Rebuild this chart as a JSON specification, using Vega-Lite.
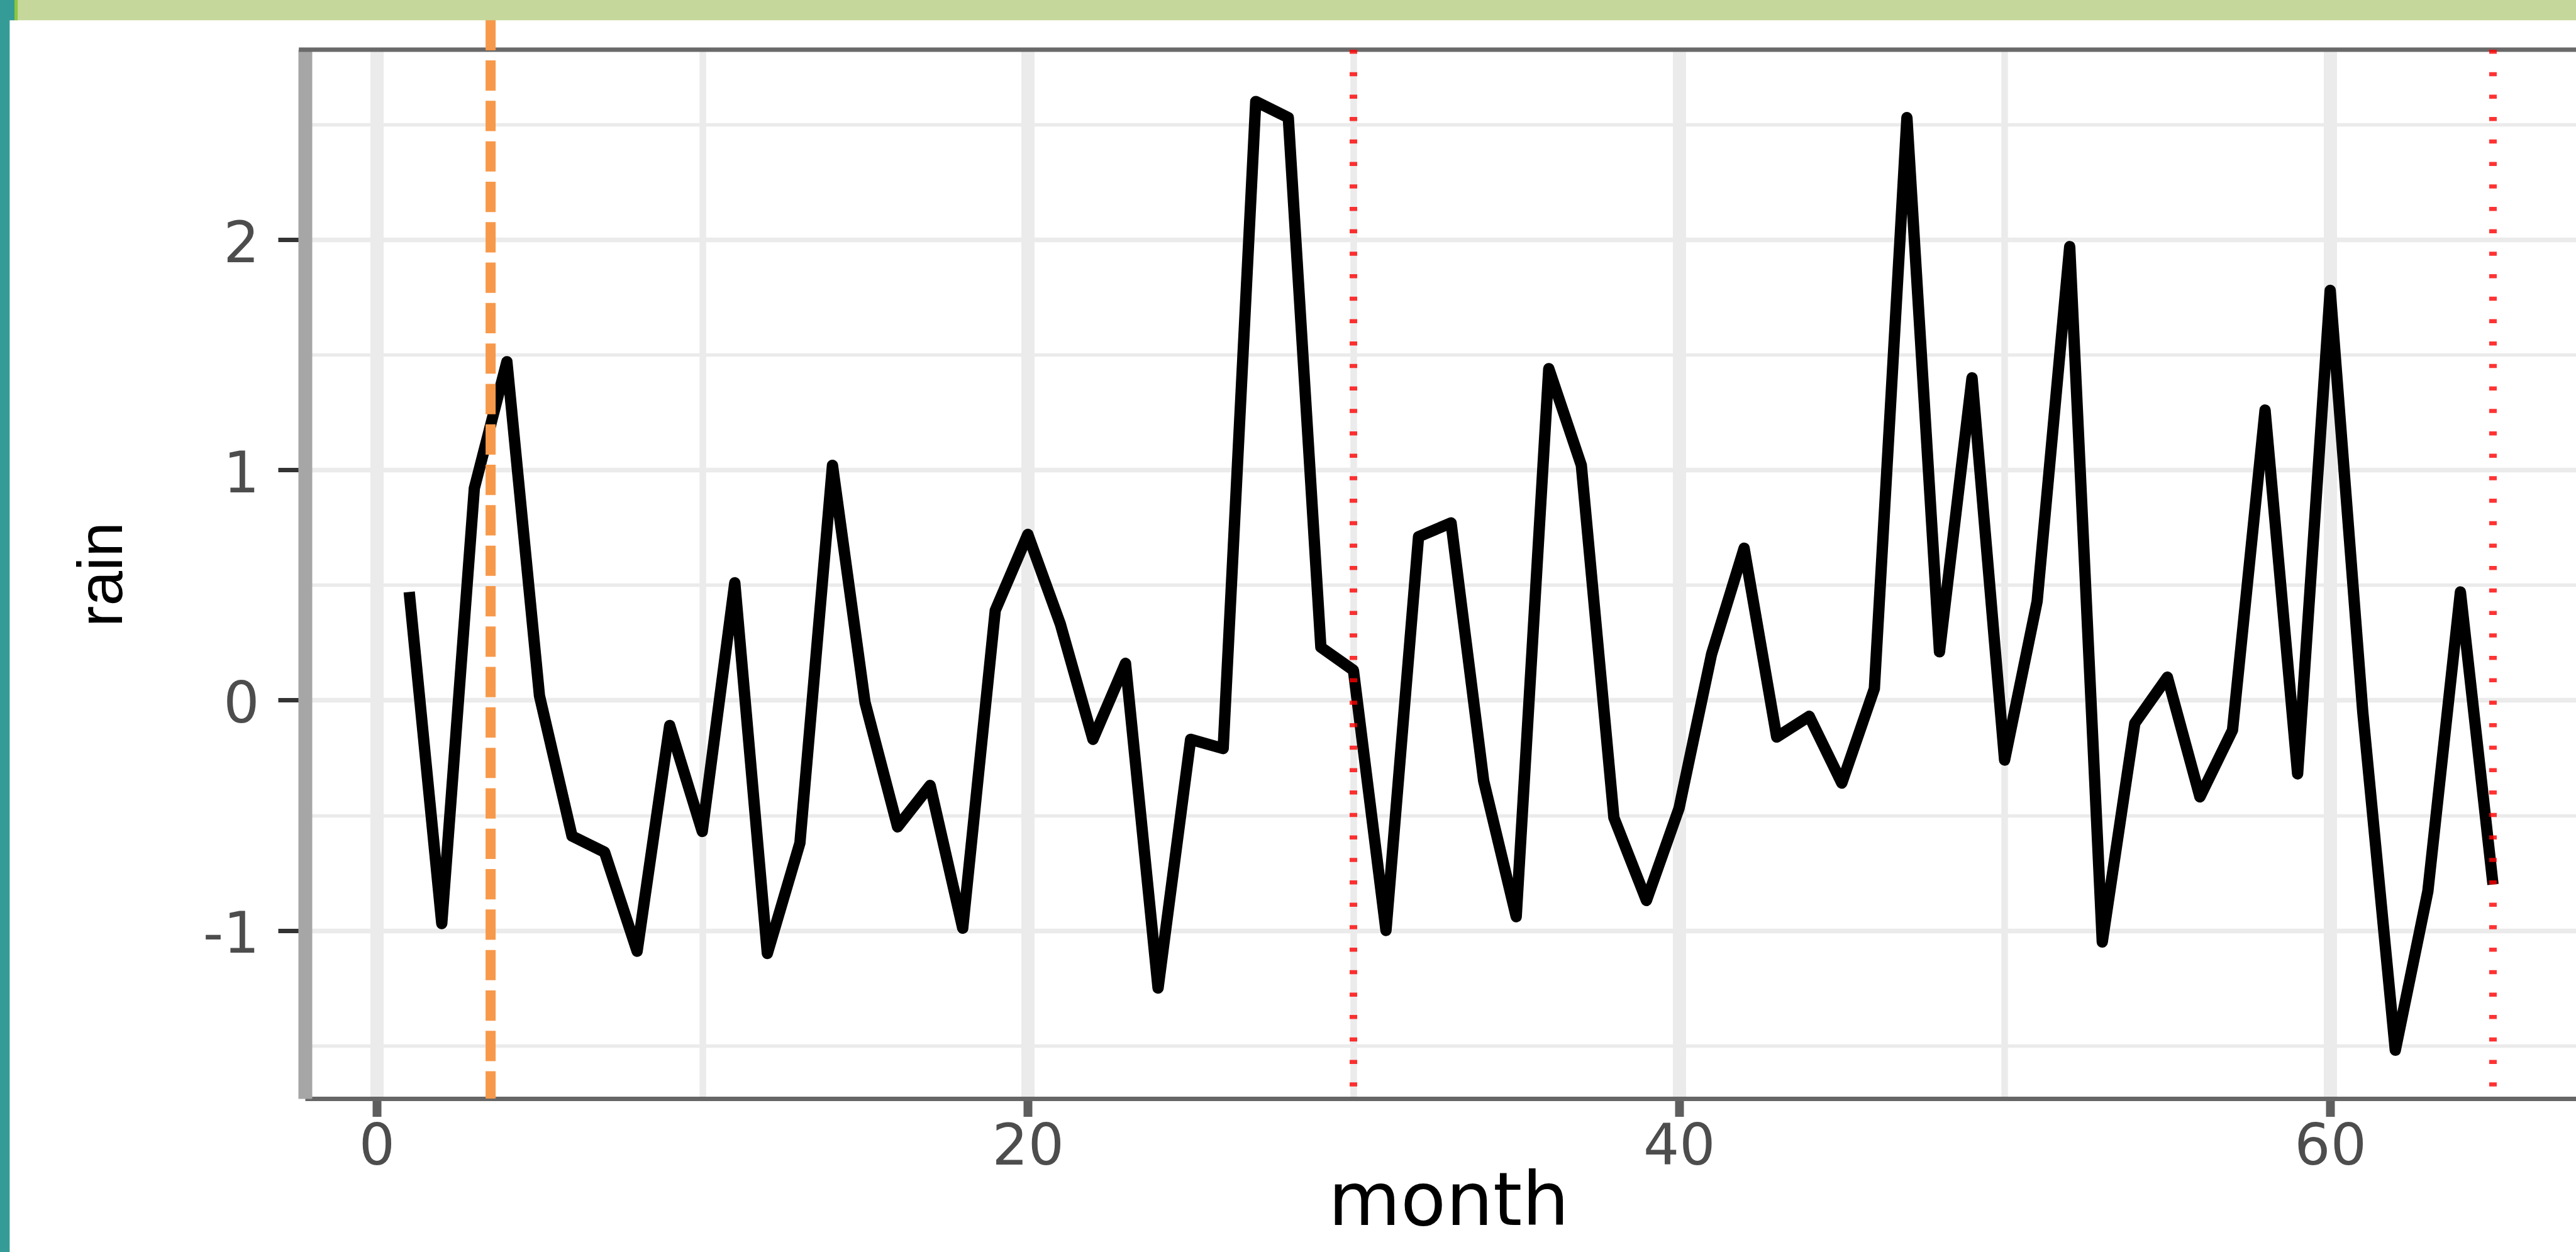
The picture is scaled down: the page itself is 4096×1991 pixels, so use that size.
{
  "$schema": "https://vega.github.io/schema/vega-lite/v6.json",
  "width": 3611,
  "height": 1668,
  "autosize": {"type": "none"},
  "padding": {"left": 485, "top": 79, "right": 0, "bottom": 244},
  "background": "white",
  "config": {"view": {"stroke": null}},
  "datasets": {
    "rain": [
      {"month": 1, "rain": 0.47}, {"month": 2, "rain": -0.97}, {"month": 3, "rain": 0.92}, {"month": 4, "rain": 1.47},
      {"month": 5, "rain": 0.02}, {"month": 6, "rain": -0.59}, {"month": 7, "rain": -0.66}, {"month": 8, "rain": -1.09},
      {"month": 9, "rain": -0.11}, {"month": 10, "rain": -0.57}, {"month": 11, "rain": 0.51}, {"month": 12, "rain": -1.10},
      {"month": 13, "rain": -0.62}, {"month": 14, "rain": 1.02}, {"month": 15, "rain": -0.01}, {"month": 16, "rain": -0.55},
      {"month": 17, "rain": -0.37}, {"month": 18, "rain": -0.99}, {"month": 19, "rain": 0.39}, {"month": 20, "rain": 0.72},
      {"month": 21, "rain": 0.33}, {"month": 22, "rain": -0.17}, {"month": 23, "rain": 0.16}, {"month": 24, "rain": -1.25},
      {"month": 25, "rain": -0.17}, {"month": 26, "rain": -0.21}, {"month": 27, "rain": 2.60}, {"month": 28, "rain": 2.53},
      {"month": 29, "rain": 0.23}, {"month": 30, "rain": 0.13}, {"month": 31, "rain": -1.00}, {"month": 32, "rain": 0.71},
      {"month": 33, "rain": 0.77}, {"month": 34, "rain": -0.35}, {"month": 35, "rain": -0.94}, {"month": 36, "rain": 1.44},
      {"month": 37, "rain": 1.02}, {"month": 38, "rain": -0.51}, {"month": 39, "rain": -0.87}, {"month": 40, "rain": -0.47},
      {"month": 41, "rain": 0.20}, {"month": 42, "rain": 0.66}, {"month": 43, "rain": -0.16}, {"month": 44, "rain": -0.07},
      {"month": 45, "rain": -0.36}, {"month": 46, "rain": 0.05}, {"month": 47, "rain": 2.53}, {"month": 48, "rain": 0.21},
      {"month": 49, "rain": 1.40}, {"month": 50, "rain": -0.26}, {"month": 51, "rain": 0.43}, {"month": 52, "rain": 1.97},
      {"month": 53, "rain": -1.05}, {"month": 54, "rain": -0.10}, {"month": 55, "rain": 0.10}, {"month": 56, "rain": -0.42},
      {"month": 57, "rain": -0.13}, {"month": 58, "rain": 1.26}, {"month": 59, "rain": -0.32}, {"month": 60, "rain": 1.78},
      {"month": 61, "rain": -0.05}, {"month": 62, "rain": -1.52}, {"month": 63, "rain": -0.83}, {"month": 64, "rain": 0.47},
      {"month": 65, "rain": -0.80}
    ],
    "redlines": [{"month": 30}, {"month": 65}],
    "orangeline": [{"month": 3.5}],
    "one": [{}]
  },
  "layer": [
    {
      "data": {"name": "rain"},
      "mark": {"type": "line", "color": "black", "strokeWidth": 18, "strokeJoin": "round", "strokeCap": "butt", "clip": true},
      "encoding": {
        "x": {
          "field": "month", "type": "quantitative",
          "scale": {"domain": [-2.2, 67.55], "nice": false, "zero": false},
          "axis": {
            "values": [0, 10, 20, 30, 40, 50, 60],
            "title": "month",
            "titleFont": "DejaVu Sans", "titleFontSize": 118, "titleFontWeight": "normal", "titleColor": "#000000",
            "titleX": 1818, "titleY": 200, "titleAlign": "center", "titleBaseline": "alphabetic",
            "labelExpr": "datum.value % 20 === 0 ? toString(datum.value) : ''",
            "labelFont": "DejaVu Sans", "labelFontSize": 90, "labelColor": "#4d4d4d",
            "labelPadding": 4.5, "labelBaseline": "top", "labelFlush": false, "labelOverlap": false, "labelAngle": 0,
            "tickSize": 28.5, "tickWidth": 14, "tickColor": "#5e5e5e",
            "tickOpacity": {"condition": {"test": "datum.value % 20 === 0", "value": 1}, "value": 0},
            "domainColor": "#666666", "domainWidth": 7,
            "grid": true, "gridColor": "#ebebeb",
            "gridWidth": {"condition": {"test": "datum.value % 20 === 0", "value": 21}, "value": 10.5}
          }
        },
        "y": {
          "field": "rain", "type": "quantitative",
          "scale": {"domain": [-1.73, 2.825], "nice": false, "zero": false},
          "axis": {
            "values": [-1.5, -1, -0.5, 0, 0.5, 1, 1.5, 2, 2.5],
            "title": "rain",
            "titleFont": "Liberation Sans", "titleFontSize": 100, "titleFontWeight": "normal", "titleColor": "#000000",
            "titleAngle": 270, "titleX": -322, "titleY": 834, "titleAlign": "center", "titleBaseline": "middle",
            "labelExpr": "datum.value % 1 === 0 ? toString(datum.value) : ''",
            "labelFont": "DejaVu Sans", "labelFontSize": 90, "labelColor": "#4d4d4d",
            "labelPadding": 30, "labelOffset": 8, "labelBaseline": "middle", "labelFlush": false, "labelOverlap": false,
            "tickSize": 43, "tickWidth": 7, "tickColor": "#333333",
            "tickOpacity": {"condition": {"test": "datum.value % 1 === 0", "value": 1}, "value": 0},
            "domainColor": "#a6a6a6", "domainWidth": 22,
            "grid": true, "gridColor": "#ebebeb",
            "gridWidth": {"condition": {"test": "datum.value % 1 === 0", "value": 7.5}, "value": 5.5}
          }
        }
      }
    },
    {
      "data": {"name": "one"},
      "mark": {"type": "rule", "color": "#696969", "strokeWidth": 7, "clip": false},
      "encoding": {"x": {"datum": -2.39}, "x2": {"datum": 67.55}, "y": {"datum": 2.825}}
    },
    {
      "data": {"name": "redlines"},
      "mark": {"type": "rule", "color": "#ff0000", "opacity": 0.8, "strokeWidth": 12, "strokeDash": [6.5, 29.2], "clip": false},
      "encoding": {"x": {"field": "month", "type": "quantitative"}, "y": {"datum": 2.825}, "y2": {"datum": -1.73}}
    },
    {
      "data": {"name": "orangeline"},
      "mark": {"type": "rule", "color": "#f7994a", "strokeWidth": 16, "strokeDash": [48.2, 16.1], "clip": false},
      "encoding": {"x": {"field": "month", "type": "quantitative"}, "y": {"datum": 2.954}, "y2": {"datum": -1.73}}
    },
    {
      "data": {"name": "one"},
      "mark": {"type": "rect", "color": "#c5d79b", "clip": false},
      "encoding": {"x": {"datum": -30}, "x2": {"datum": 90}, "y": {"datum": 2.953}, "y2": {"datum": 3.5}}
    },
    {
      "data": {"name": "one"},
      "mark": {"type": "rect", "color": "#359b96", "clip": false},
      "encoding": {"x": {"datum": -12}, "x2": {"datum": -11.271}, "y": {"datum": -10}, "y2": {"datum": 10}}
    },
    {
      "data": {"name": "one"},
      "mark": {"type": "rect", "color": "#359b96", "clip": false},
      "encoding": {"x": {"datum": -12}, "x2": {"datum": -11.124}, "y": {"datum": 2.953}, "y2": {"datum": 3.5}}
    },
    {
      "data": {"name": "one"},
      "mark": {"type": "rect", "color": "#8cc63f", "clip": false},
      "encoding": {"x": {"datum": -11.124}, "x2": {"datum": -11.027}, "y": {"datum": 2.953}, "y2": {"datum": 3.5}}
    }
  ]
}
